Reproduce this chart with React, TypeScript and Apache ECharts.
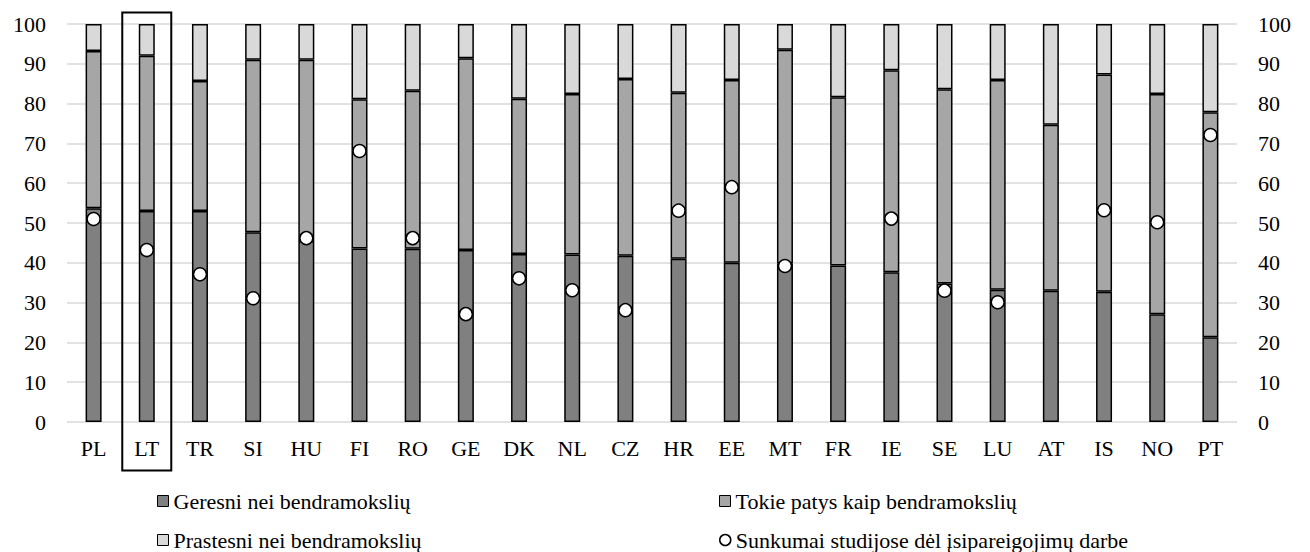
import React, { useEffect, useRef } from "react";
import * as echarts from "echarts";

const countries = ["PL", "LT", "TR", "SI", "HU", "FI", "RO", "GE", "DK", "NL", "CZ", "HR", "EE", "MT", "FR", "IE", "SE", "LU", "AT", "IS", "NO", "PT"];
const better = [53.7, 53.0, 53.0, 47.7, 45.5, 43.6, 43.5, 43.2, 42.2, 42.1, 41.8, 41.0, 40.0, 39.8, 39.3, 37.6, 34.8, 33.2, 33.0, 32.7, 27.1, 21.3];
const same = [39.5, 39.0, 32.7, 43.3, 45.5, 37.5, 39.7, 48.2, 39.0, 40.3, 44.4, 41.7, 45.9, 53.7, 42.3, 50.8, 48.8, 52.7, 41.7, 54.6, 55.3, 56.5];
const worse = [6.8, 8.0, 14.3, 9.0, 9.0, 18.9, 16.8, 8.6, 18.8, 17.6, 13.8, 17.3, 14.1, 6.5, 18.4, 11.6, 16.4, 14.1, 25.3, 12.7, 17.6, 22.2];
const difficulties: (number | null)[] = [51.0, 43.2, 37.1, 31.1, 46.2, 68.1, 46.2, 27.1, 36.1, 33.1, 28.1, 53.1, 59.0, 39.2, null, 51.1, 33.0, 30.1, null, 53.2, 50.2, 72.1];
const yTicks = { min: 0, max: 100, interval: 10 };
const highlighted = "LT";

const names = [
  "Geresni nei bendramokslių",
  "Tokie patys kaip bendramokslių",
  "Prastesni nei bendramokslių",
  "Sunkumai studijose dėl įsipareigojimų darbe",
];

const FONT = "'Liberation Serif', serif";

export default function App() {
  const ref = useRef<HTMLDivElement>(null);
  useEffect(() => {
    if (!ref.current) return;
    const chart = echarts.init(ref.current, undefined, { renderer: "svg" });
    const label = { fontFamily: FONT, fontSize: 22, color: "#000" };
    const barStyle = (c: string) => ({ color: c, borderColor: "#000", borderWidth: 1.5 });
    const legendBase = {
      orient: "horizontal" as const,
      padding: 0,
      itemWidth: 11,
      itemHeight: 11,
      itemGap: 5,
      textStyle: { fontFamily: FONT, fontSize: 22, color: "#000" },
      selectedMode: false,
      icon: "rect",
    };
    chart.setOption({
      animation: false,
      grid: { left: 67, right: 73, top: 24, bottom: 130, containLabel: false },
      xAxis: {
        type: "category",
        data: countries,
        axisLine: { show: false },
        axisTick: { show: false },
        axisLabel: { ...label, margin: 15 },
      },
      yAxis: [
        {
          type: "value",
          ...yTicks,
          axisLine: { show: false },
          axisTick: { show: false },
          axisLabel: { ...label, margin: 21 },
          splitLine: { lineStyle: { color: "#d9d9d9", width: 1.5 } },
        },
        {
          type: "value",
          ...yTicks,
          position: "right",
          axisLine: { show: false },
          axisTick: { show: false },
          axisLabel: { ...label, margin: 21 },
          splitLine: { show: false },
        },
      ],
      legend: [
        { ...legendBase, left: 157, top: 490, data: [{ name: names[0], itemStyle: { color: "#808080", borderColor: "#000", borderWidth: 1 } }] },
        { ...legendBase, left: 719, top: 490, data: [{ name: names[1], itemStyle: { color: "#a6a6a6", borderColor: "#000", borderWidth: 1 } }] },
        { ...legendBase, left: 157, top: 529, data: [{ name: names[2], itemStyle: { color: "#d9d9d9", borderColor: "#000", borderWidth: 1 } }] },
        { ...legendBase, left: 719, top: 529, data: [{ name: names[3], icon: "circle", itemStyle: { color: "#fff", borderColor: "#000", borderWidth: 1.5 } }] },
      ],
      series: [
        { name: names[0], type: "bar", stack: "s", data: better, barWidth: 16, itemStyle: barStyle("#808080") },
        { name: names[1], type: "bar", stack: "s", data: same, barWidth: 16, itemStyle: barStyle("#a6a6a6") },
        { name: names[2], type: "bar", stack: "s", data: worse, barWidth: 16, itemStyle: barStyle("#d9d9d9") },
        {
          name: names[3],
          type: "scatter",
          yAxisIndex: 1,
          data: difficulties.map((v) => (v === null ? "-" : v)),
          symbol: "circle",
          symbolSize: 13,
          itemStyle: { color: "#fff", borderColor: "#000", borderWidth: 1.5, opacity: 1 },
          z: 5,
        },
      ],
    });
    const cx = chart.convertToPixel({ xAxisIndex: 0 }, highlighted) as number;
    const yTop = chart.convertToPixel({ yAxisIndex: 0 }, yTicks.max) as number;
    const yBot = chart.convertToPixel({ yAxisIndex: 0 }, yTicks.min) as number;
    chart.setOption({
      graphic: [
        {
          type: "rect",
          shape: { x: cx - 24.5, y: yTop - 11.5, width: 49, height: yBot - yTop + 60 },
          style: { fill: "none", stroke: "#000", lineWidth: 2 },
          z: 10,
        },
      ],
    });
    return () => chart.dispose();
  }, []);
  return <div ref={ref} style={{ width: 1310, height: 552, position: "absolute", left: 0, top: 0 }} />;
}
